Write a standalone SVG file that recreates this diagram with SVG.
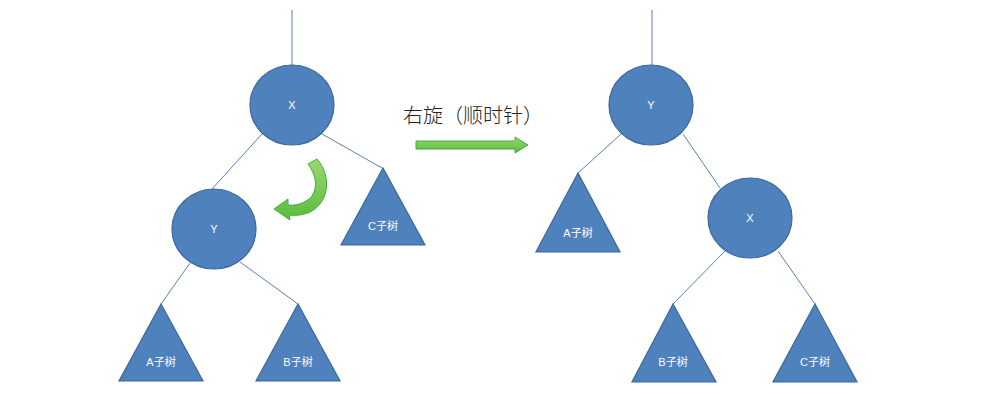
<svg xmlns="http://www.w3.org/2000/svg" width="1000" height="400" viewBox="0 0 1000 400">
<defs>
<style>
.node{fill:#4F81BD;stroke:#3A679E;stroke-width:1.2}
.lbl{fill:#ffffff;font-family:"Liberation Sans","Noto Sans CJK SC",sans-serif;font-size:11px;text-anchor:middle}
.edge{stroke:#5B80AD;stroke-width:1;fill:none}
.title{fill:#222222;font-family:"Noto Sans CJK SC",sans-serif;font-size:20px;font-weight:300}
.garrow{fill:url(#g);stroke:#3FAE3F;stroke-width:1}
</style>
<linearGradient id="g" x1="0" y1="0" x2="0" y2="1">
<stop offset="0" stop-color="#9AD86E"/>
<stop offset="1" stop-color="#5CBA3E"/>
</linearGradient>
</defs>
<rect width="1000" height="400" fill="#ffffff"/>
<g id="connectors">
<line class="edge" x1="292" y1="10" x2="292" y2="65"/>
<line class="edge" x1="262" y1="134" x2="212" y2="189"/>
<line class="edge" x1="322" y1="134" x2="382" y2="168"/>
<line class="edge" x1="190" y1="263" x2="161" y2="304"/>
<line class="edge" x1="240" y1="262" x2="298" y2="304"/>
<line class="edge" x1="652" y1="10" x2="652" y2="65"/>
<line class="edge" x1="621" y1="134" x2="578" y2="173"/>
<line class="edge" x1="683" y1="134" x2="720" y2="188"/>
<line class="edge" x1="725" y1="251" x2="673" y2="304"/>
<line class="edge" x1="778" y1="251" x2="815" y2="304"/>
</g>
<g id="left-X"><ellipse class="node" cx="292" cy="105" rx="42" ry="40"/><text class="lbl" x="292" y="109">X</text></g>
<g id="left-Y"><ellipse class="node" cx="214" cy="229" rx="42" ry="40"/><text class="lbl" x="214" y="233">Y</text></g>
<g id="left-C"><polygon class="node" points="383,168 341,245 425,245"/><text class="lbl" x="383" y="230">C子树</text></g>
<g id="left-A"><polygon class="node" points="161,304 119,381 203,381"/><text class="lbl" x="161" y="366">A子树</text></g>
<g id="left-B"><polygon class="node" points="298,304 256,381 340,381"/><text class="lbl" x="298" y="366">B子树</text></g>
<g id="rotate-arrow">
<path class="garrow" d="M 308,164 L 317,159 C 331,175 330,200 312,211 C 305,215 296,216 289,215 L 290,220 L 274,209 L 288,199 L 288,205 C 296,206 306,203 312,196 C 318,186 316,175 308,164 Z"/>
</g>
<g id="title">
<text class="title" x="403" y="123">右旋（顺时针）</text>
<polygon class="garrow" points="416,141 515,141 515,137 528,145 515,153 515,149 416,149"/>
</g>
<g id="right-Y"><ellipse class="node" cx="651" cy="105" rx="42" ry="40"/><text class="lbl" x="651" y="109">Y</text></g>
<g id="right-X"><ellipse class="node" cx="750" cy="218" rx="42" ry="40"/><text class="lbl" x="750" y="222">X</text></g>
<g id="right-A"><polygon class="node" points="578,173 536,252 620,252"/><text class="lbl" x="578" y="237">A子树</text></g>
<g id="right-B"><polygon class="node" points="673,304 632,382 716,382"/><text class="lbl" x="673" y="366">B子树</text></g>
<g id="right-C"><polygon class="node" points="815,304 773,382 857,382"/><text class="lbl" x="815" y="366">C子树</text></g>
</svg>
